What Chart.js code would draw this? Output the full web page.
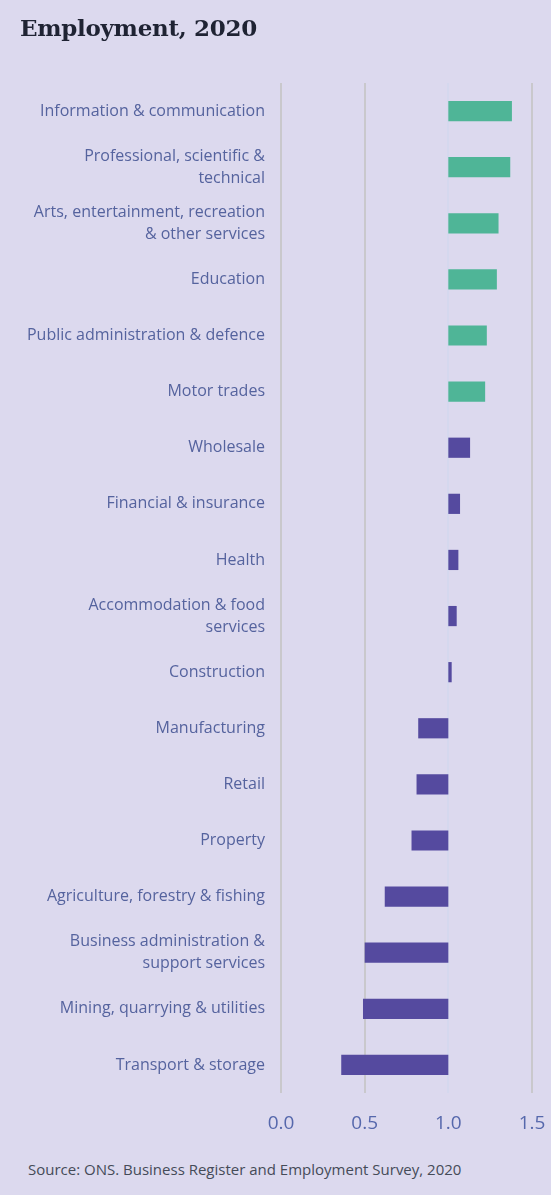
<!DOCTYPE html>
<html>
<head>
<meta charset="utf-8">
<script src="https://cdn.jsdelivr.net/npm/chart.js@4"></script>
<style>
    html, body {
        margin: 0;
        padding: 0;
        background: #dcd9ee;
    }
    #page {
        position: relative;
        width: 551px;
        height: 1195px;
        background: #dcd9ee;
        overflow: hidden;
    }
    #title {
        position: absolute;
        left: 20px;
        top: 14px;
        font-family: "DejaVu Serif", serif;
        font-weight: bold;
        font-size: 23px;
        color: #1f2333;
        letter-spacing: -0.3px;
    }
    #chart-box {
        position: absolute;
        left: 0;
        top: 0;
        width: 551px;
        height: 1143px;
    }
    #source {
        position: absolute;
        left: 28px;
        top: 1159px;
        font-family: "Open Sans", sans-serif;
        font-size: 15px;
        color: #454b58;
    }
</style>
</head>
<body>
<div id="page">
    <div id="chart-box"><canvas id="employment"></canvas></div>
    <div id="title">Employment, 2020</div>
    <div id="source">Source: ONS. Business Register and Employment Survey, 2020</div>
</div>
<script>
const sectors = [
    "Information & communication",
    ["Professional, scientific &", "technical"],
    ["Arts, entertainment, recreation", "& other services"],
    "Education",
    "Public administration & defence",
    "Motor trades",
    "Wholesale",
    "Financial & insurance",
    "Health",
    ["Accommodation & food", "services"],
    "Construction",
    "Manufacturing",
    "Retail",
    "Property",
    "Agriculture, forestry & fishing",
    ["Business administration &", "support services"],
    "Mining, quarrying & utilities",
    "Transport & storage"
];

const employmentIndex = [1.38, 1.37, 1.30, 1.29, 1.23, 1.22, 1.13, 1.07, 1.06, 1.05, 1.02, 0.82, 0.81, 0.78, 0.62, 0.50, 0.49, 0.36];

// sectors picked out in green; the rest are purple
const sectorGroup = ['top', 'top', 'top', 'top', 'top', 'top',
    'rest', 'rest', 'rest', 'rest', 'rest', 'rest', 'rest', 'rest', 'rest', 'rest', 'rest', 'rest'];

const baseline = 1.0;
const xTicks = [0.0, 0.5, 1.0, 1.5];

const groupColours = { top: '#4fb597', rest: '#554a9f' };

const createEmploymentChart = () => {
    const ctx = document.getElementById('employment').getContext('2d');

    new Chart(ctx, {
        type: 'bar',
        data: {
            labels: sectors,
            datasets: [
                {
                    data: employmentIndex.map(v => [baseline, v]), // bars float from the 1.0 line
                    backgroundColor: sectorGroup.map(g => groupColours[g]),
                    borderWidth: 0,
                    categoryPercentage: 1,
                    barPercentage: 0.36
                }
            ]
        },
        options: {
            indexAxis: 'y',
            responsive: true,
            maintainAspectRatio: false,
            animation: false,
            layout: {
                padding: { top: 83, right: 19, left: 0, bottom: 0 }
            },
            plugins: {
                legend: { display: false },
                tooltip: { enabled: false }
            },
            scales: {
                x: {
                    min: 0,
                    max: 1.5,
                    afterBuildTicks: (scale) => {
                        scale.ticks = xTicks.map(v => ({ value: v }));
                    },
                    afterFit: (scale) => {
                        scale.height = 50;
                        scale.paddingLeft = 0;
                        scale.paddingRight = 0;
                    },
                    border: { display: false },
                    grid: {
                        drawTicks: false,
                        lineWidth: 2,
                        color: (c) => c.tick && c.tick.value === baseline ? '#d5d8ee' : '#c9c8cc'
                    },
                    ticks: {
                        padding: 19,
                        color: '#5668ac',
                        font: { family: 'Open Sans', size: 19 },
                        callback: (value) => Number(value).toFixed(1)
                    }
                },
                y: {
                    afterFit: (scale) => {
                        scale.width = 281;
                    },
                    border: { display: false },
                    grid: { display: false, drawTicks: false },
                    ticks: {
                        padding: 16,
                        color: '#55639e',
                        font: { family: 'Open Sans', size: 16, lineHeight: 1.375 }
                    }
                }
            }
        }
    });
};

document.addEventListener('DOMContentLoaded', function () {
    createEmploymentChart();
});
</script>
</body>
</html>
